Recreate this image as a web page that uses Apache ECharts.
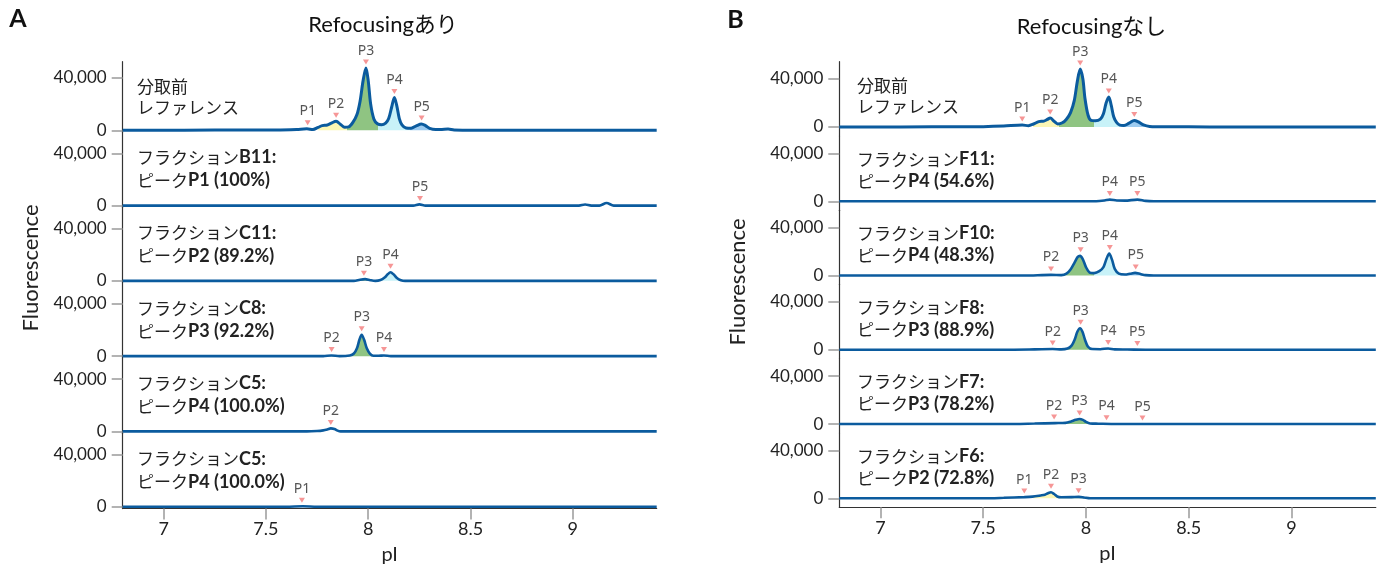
<!DOCTYPE html>
<html>
<head>
<meta charset="utf-8">
<script src="https://cdn.jsdelivr.net/npm/echarts@6/dist/echarts.min.js"></script>
<style>
  html, body { margin: 0; padding: 0; background: #fff; }
  #chart { width: 1392px; height: 567px; }
</style>
</head>
<body>
<div id="chart"></div>
<script>
// ---- axis ticks ----
const pITicks = [7, 7.5, 8, 8.5, 9];
const fluorTicks = [0, 40000];

// ---- Panel A: with refocusing ----
const titleA = 'Refocusingあり';
const labelsA = [
  ['分取前', 'レファレンス'],
  ['フラクションB11:', 'ピークP1 (100%)'],
  ['フラクションC11:', 'ピークP2 (89.2%)'],
  ['フラクションC8:', 'ピークP3 (92.2%)'],
  ['フラクションC5:', 'ピークP4 (100.0%)'],
  ['フラクションC5:', 'ピークP4 (100.0%)']
];
// pI, fluorescence
const refA = [[6.80,0],[7.10,100],[7.40,200],[7.55,300],[7.65,700],[7.70,1100],[7.73,600],[7.755,2200],[7.775,3600],[7.80,4000],[7.82,5500],[7.843,6900],[7.865,4500],[7.885,2300],[7.905,2600],[7.925,6000],[7.945,12000],[7.96,22000],[7.975,38000],[7.989,47600],[8.00,38000],[8.012,20000],[8.028,8500],[8.045,5000],[8.065,4200],[8.085,5500],[8.10,9000],[8.115,18000],[8.128,25000],[8.14,18500],[8.152,9000],[8.165,4200],[8.185,1800],[8.21,1600],[8.235,3400],[8.26,4800],[8.28,3600],[8.30,1500],[8.33,600],[8.36,700],[8.39,1000],[8.42,300],[8.55,100],[8.80,0],[9.41,0]];
const fracB11 = [[6.80,0],[8.00,0],[8.22,0],[8.25,900],[8.28,0],[9.03,0],[9.06,800],[9.09,0],[9.13,0],[9.165,2000],[9.20,0],[9.41,0]];
const fracC11 = [[6.80,0],[7.93,0],[7.96,900],[7.985,1300],[8.01,500],[8.035,0],[8.06,600],[8.08,2500],[8.095,5000],[8.109,6600],[8.125,4800],[8.14,2200],[8.16,500],[8.18,0],[9.41,0]];
const fracC8 = [[6.80,0],[7.78,0],[7.82,500],[7.86,0],[7.91,500],[7.93,2000],[7.945,6000],[7.957,12500],[7.968,16300],[7.98,12500],[7.993,6000],[8.008,2000],[8.025,300],[8.05,300],[8.077,500],[8.11,0],[9.41,0]];
const fracC5a = [[6.80,0],[7.70,0],[7.75,300],[7.78,800],[7.80,1500],[7.817,2300],[7.835,1800],[7.85,600],[7.865,0],[9.41,0]];
const fracC5b = [[6.80,0],[7.60,0],[7.68,300],[7.75,0],[9.41,0]];
const tracesA = [refA, fracB11, fracC11, fracC8, fracC5a, fracC5b];
// peak name, pI, fluorescence at the marker
const peaksA = [
  [['P1',7.704,1100],['P2',7.843,6900],['P3',7.989,47600],['P4',8.128,25000],['P5',8.261,4800]],
  [['P5',8.253,900]],
  [['P3',7.979,1300],['P4',8.109,6600]],
  [['P2',7.821,500],['P3',7.968,16300],['P4',8.077,500]],
  [['P2',7.817,2300]],
  [['P1',7.676,300]]
];
const filledA = [true, false, true, true, false, false];
const peakEdgesA = [7.755, 7.897, 8.049, 8.205, 8.30];

// ---- Panel B: without refocusing ----
const titleB = 'Refocusingなし';
const labelsB = [
  ['分取前', 'レファレンス'],
  ['フラクションF11:', 'ピークP4 (54.6%)'],
  ['フラクションF10:', 'ピークP4 (48.3%)'],
  ['フラクションF8:', 'ピークP3 (88.9%)'],
  ['フラクションF7:', 'ピークP3 (78.2%)'],
  ['フラクションF6:', 'ピークP2 (72.8%)']
];
const refB = [[6.80,0],[7.10,100],[7.40,200],[7.50,300],[7.60,800],[7.69,1600],[7.72,1100],[7.745,2500],[7.77,4500],[7.795,4900],[7.812,6300],[7.826,7500],[7.845,4800],[7.863,2600],[7.885,3500],[7.905,6500],[7.925,12000],[7.943,22000],[7.958,38000],[7.972,48300],[7.985,40000],[7.995,24000],[8.01,10000],[8.025,5500],[8.045,5200],[8.07,6500],[8.085,11000],[8.098,20000],[8.111,25000],[8.123,18000],[8.135,8500],[8.148,4000],[8.165,1500],[8.185,1200],[8.21,3200],[8.235,5500],[8.255,4200],[8.28,1700],[8.31,500],[8.40,200],[8.60,100],[9.41,0]];
const fracF11 = [[6.80,0],[8.05,0],[8.09,600],[8.116,1400],[8.15,600],[8.19,500],[8.25,1400],[8.29,300],[8.33,0],[9.41,0]];
const fracF10 = [[6.80,0],[7.70,0],[7.83,500],[7.88,300],[7.905,1500],[7.925,5000],[7.945,11000],[7.96,15500],[7.971,16400],[7.985,13500],[8.00,7000],[8.018,2500],[8.04,2000],[8.065,3600],[8.085,7000],[8.10,14000],[8.113,18300],[8.127,13000],[8.14,5500],[8.16,1500],[8.19,800],[8.215,1500],[8.239,2200],[8.265,1200],[8.29,300],[8.33,0],[9.41,0]];
const fracF8 = [[6.80,0],[7.60,0],[7.75,300],[7.838,600],[7.88,300],[7.91,1000],[7.93,3500],[7.945,8500],[7.958,15000],[7.971,18000],[7.983,15000],[7.996,8000],[8.01,2500],[8.03,600],[8.07,500],[8.108,1100],[8.14,300],[8.20,200],[8.30,0],[9.41,0]];
const fracF7 = [[6.80,0],[7.60,0],[7.75,400],[7.85,800],[7.90,1000],[7.925,2000],[7.95,3500],[7.969,4200],[7.985,3500],[8.00,1800],[8.02,500],[8.06,300],[8.15,0],[9.41,0]];
const fracF6 = [[6.80,0],[7.50,0],[7.60,400],[7.70,1000],[7.74,1400],[7.78,2400],[7.80,3000],[7.815,4200],[7.83,5000],[7.845,3600],[7.86,1500],[7.88,900],[7.93,1000],[7.965,1200],[7.99,700],[8.02,0],[9.41,0]];
const tracesB = [refB, fracF11, fracF10, fracF8, fracF7, fracF6];
const peaksB = [
  [['P1',7.69,1600],['P2',7.826,7500],['P3',7.972,48300],['P4',8.111,25000],['P5',8.235,5500]],
  [['P4',8.116,1400],['P5',8.25,1400]],
  [['P2',7.83,500],['P3',7.974,16400],['P4',8.116,18300],['P5',8.242,2200]],
  [['P2',7.838,600],['P3',7.974,18000],['P4',8.108,1100],['P5',8.25,200]],
  [['P2',7.845,800],['P3',7.969,4200],['P4',8.10,300],['P5',8.275,0]],
  [['P1',7.70,1000],['P2',7.83,5000],['P3',7.964,1200]]
];
const filledB = [true, false, true, true, true, true];
const peakEdgesB = [7.742, 7.871, 8.041, 8.171, 8.308];

// ---- styling ----
const LATIN = 'Lato, "Noto Sans", sans-serif';
const JP = '"Noto Sans CJK JP", sans-serif';
const MIXED = 'Lato, "Noto Sans CJK JP", sans-serif';
const TEXT = '#222';
const TRACE = '#0b5b9e';
const PEAK_FILLS = ['#fbf6b4', '#8fc482', '#c8f2f8', '#9ccbf0'];
const CLEAR = 'rgba(255,255,255,0)';
const MARKER = '#f47c7c';

// stacked-panel geometry (pixels)
const panelA = { left: 122.7, width: 534, base0: 130.3, step: 75.28, pxPerUnit: 52.3 / 40000,
  yMin: -1400, yMax: 56200, firstTop: 61.7, textLeft: 137, textOffset: [-48, -25], textOffset0: [-44, -23] };
const panelB = { left: 839.3, width: 536.5, base0: 127, step: 74.26, pxPerUnit: 48 / 40000,
  yMin: -7500, yMax: 54400, firstTop: null, textLeft: 857, textOffset: [-42, -20], textOffset0: [-41, -20] };

const grid = [], xAxis = [], yAxis = [], series = [], visualMap = [], title = [];

function richLine(str) {
  // Japanese runs in the CJK face, the rest in the Latin face
  return str.split(/([\u3000-\u30ff\u4e00-\u9fff]+)/).filter(s => s.length)
    .map(s => /[\u3000-\u30ff\u4e00-\u9fff]/.test(s) ? '{j|' + s + '}' : '{l|' + s + '}').join('');
}

function buildPanel(geom, traces, peaks, filled, edges, labels) {
  traces.forEach((trace, i) => {
    const g = grid.length;
    const baseline = geom.base0 + i * geom.step;
    const top = (i === 0 && geom.firstTop != null) ? geom.firstTop : baseline - geom.yMax * geom.pxPerUnit;
    const bottom = baseline - geom.yMin * geom.pxPerUnit;
    const yMax = (baseline - top) / geom.pxPerUnit;
    const last = i === traces.length - 1;
    grid.push({ left: geom.left, top: top, width: geom.width, height: bottom - top, containLabel: false });

    xAxis.push({
      type: 'value', gridIndex: g, min: 6.8, max: 9.41, show: last,
      axisLine: { show: last, onZero: false, lineStyle: { color: '#333', width: 1.2 } },
      axisTick: { show: last, customValues: pITicks, length: 11, lineStyle: { color: '#9a9a9a', width: 1.5 } },
      axisLabel: { show: last, customValues: pITicks, margin: 12, fontSize: 18, color: TEXT, fontFamily: LATIN },
      splitLine: { show: false },
      name: last ? 'pI' : '', nameLocation: 'middle', nameGap: 36,
      nameTextStyle: { fontSize: 20, color: TEXT, fontFamily: LATIN }
    });
    yAxis.push({
      type: 'value', gridIndex: g, min: geom.yMin, max: yMax,
      axisLine: { show: true, onZero: false, lineStyle: { color: '#333', width: 1.2 } },
      axisTick: { show: true, customValues: fluorTicks, length: 11, lineStyle: { color: '#9a9a9a', width: 1.5 } },
      axisLabel: { customValues: fluorTicks, margin: 16, fontSize: 17, color: TEXT, fontFamily: LATIN,
        formatter: v => v.toLocaleString('en-US') },
      splitLine: { show: false }
    });

    if (filled[i]) {
      visualMap.push({
        type: 'piecewise', show: false, seriesIndex: series.length, dimension: 0,
        pieces: [
          { lt: edges[0], color: CLEAR },
          { gte: edges[0], lt: edges[1], color: PEAK_FILLS[0] },
          { gte: edges[1], lt: edges[2], color: PEAK_FILLS[1] },
          { gte: edges[2], lt: edges[3], color: PEAK_FILLS[2] },
          { gte: edges[3], lt: edges[4], color: PEAK_FILLS[3] },
          { gte: edges[4], color: CLEAR }
        ]
      });
      series.push({
        type: 'line', xAxisIndex: g, yAxisIndex: g, data: trace, smooth: 0.3,
        showSymbol: false, silent: true, z: 2,
        lineStyle: { width: 0, opacity: 0 },
        areaStyle: { opacity: 1, origin: 0 }
      });
    }
    series.push({
      type: 'line', xAxisIndex: g, yAxisIndex: g, data: trace, smooth: 0.3,
      showSymbol: false, silent: true, z: 3,
      lineStyle: { color: TRACE, width: i === 0 ? 3 : 2.6 }
    });
    series.push({
      type: 'scatter', xAxisIndex: g, yAxisIndex: g, silent: true, z: 4,
      data: peaks[i].map(p => ({ name: p[0], value: [p[1], p[2]] })),
      symbol: 'path://M0,0 L10,0 L5,8 Z', symbolSize: [6, 5], symbolOffset: [0, -6],
      itemStyle: { color: MARKER },
      label: { show: true, formatter: '{b}', position: 'top', distance: 2,
        fontSize: 14, color: '#2a2a2a', fontFamily: '"Noto Sans", sans-serif' }
    });

    const off = i === 0 ? geom.textOffset0 : geom.textOffset;
    const lh = off[1] - off[0];
    title.push({
      left: geom.textLeft, top: baseline + off[0] - lh / 2, padding: 0,
      text: labels[i].map(richLine).join('\n'),
      textStyle: {
        fontWeight: 'normal',
        rich: {
          j: { fontFamily: JP, fontSize: 17, fontWeight: 'normal', color: TEXT, lineHeight: lh },
          l: { fontFamily: LATIN, fontSize: 18, fontWeight: 'bold', color: TEXT, lineHeight: lh }
        }
      }
    });
  });
}

buildPanel(panelA, tracesA, peaksA, filledA, peakEdgesA, labelsA);
buildPanel(panelB, tracesB, peaksB, filledB, peakEdgesB, labelsB);

const graphic = [
  { type: 'text', x: 18, y: 18.5, style: { text: 'A', fontSize: 25, fontWeight: 'bold', fontFamily: LATIN, fill: '#111', align: 'center', verticalAlign: 'middle' } },
  { type: 'text', x: 735.5, y: 19.5, style: { text: 'B', fontSize: 25, fontWeight: 'bold', fontFamily: LATIN, fill: '#111', align: 'center', verticalAlign: 'middle' } },
  { type: 'text', x: 383, y: 25, style: { text: titleA, fontSize: 22, fontFamily: MIXED, fill: '#111', align: 'center', verticalAlign: 'middle' } },
  { type: 'text', x: 1091.5, y: 26.7, style: { text: titleB, fontSize: 22, fontFamily: MIXED, fill: '#111', align: 'center', verticalAlign: 'middle' } },
  { type: 'text', x: 31, y: 268, rotation: Math.PI / 2, style: { text: 'Fluorescence', fontSize: 22, fontFamily: LATIN, fill: TEXT, align: 'center', verticalAlign: 'middle' } },
  { type: 'text', x: 738, y: 282, rotation: Math.PI / 2, style: { text: 'Fluorescence', fontSize: 22, fontFamily: LATIN, fill: TEXT, align: 'center', verticalAlign: 'middle' } }
];

const chart = echarts.init(document.getElementById('chart'), null, { renderer: 'canvas' });
chart.setOption({
  animation: false,
  backgroundColor: '#fff',
  title, grid, xAxis, yAxis, visualMap, series, graphic
});
</script>
</body>
</html>
